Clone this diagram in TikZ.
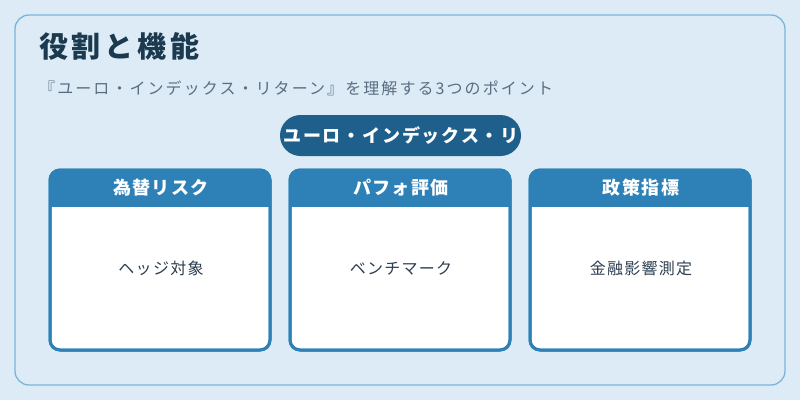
\documentclass[tikz,border=0pt]{standalone}
\usepackage{fontspec}
\newfontfamily\jp{Noto Sans CJK JP}
\definecolor{bgc}{HTML}{DCEBF6}
\definecolor{outerc}{HTML}{7AB4D8}
\definecolor{titlec}{HTML}{1B3A4F}
\definecolor{subc}{HTML}{5A6E80}
\definecolor{pillc}{HTML}{1F5F8B}
\definecolor{hdrc}{HTML}{2E81B7}
\definecolor{bodyc}{HTML}{2C3E50}
\tikzset{
  cardbox/.style={draw=hdrc, line width=3pt, fill=white, rounded corners=10pt,
    minimum width=220pt, minimum height=180pt, inner sep=0pt},
  hdrtext/.style={text=white, font=\jp\bfseries\fontsize{18}{20}\selectfont\addfontfeatures{LetterSpace=8}, inner sep=0pt},
  bodytext/.style={text=bodyc, font=\jp\fontsize{16}{18}\selectfont\addfontfeatures{LetterSpace=8}, inner sep=0pt},
}
\begin{document}
\begin{tikzpicture}[x=1pt,y=-1pt]
\useasboundingbox (0,0) rectangle (800,400);
\fill[bgc] (0,0) rectangle (800,400);
\node[draw=outerc, line width=1.3pt, fill=bgc, rounded corners=14pt, minimum width=770pt, minimum height=370pt, inner sep=0pt] (outer) at (400,200) {};
\node[anchor=west, inner sep=0pt, text=titlec, font=\jp\bfseries\fontsize{29}{32}\selectfont\addfontfeatures{LetterSpace=13}] (title) at (39,46) {役割と機能};
\node[anchor=west, inner sep=0pt, text=subc, font=\jp\fontsize{16}{18}\selectfont\addfontfeatures{LetterSpace=13}] (sub) at (39,88) {『ユーロ・インデックス・リターン』を理解する3つのポイント};
\node[fill=pillc, rounded corners=20.5pt, minimum width=241pt, minimum height=41pt, inner sep=0pt] (pill) at (400.5,135.5) {};
\node[text=white, inner sep=0pt, font=\jp\bfseries\fontsize{18}{20}\selectfont\addfontfeatures{LetterSpace=10}] (pilltext) at (401,135.5) {ユーロ・インデックス・リ};
\foreach \cx/\name/\hd/\bd in {160/c1/為替リスク/ヘッジ対象, 400/c2/パフォ評価/ベンチマーク, 640/c3/政策指標/金融影響測定}{
  \node[cardbox] (\name) at (\cx,260) {};
  \begin{scope}
    \clip[rounded corners=10pt] (\cx-110,170) rectangle (\cx+110,350);
    \fill[hdrc] (\cx-110,170) rectangle (\cx+110,206.5);
  \end{scope}
  \node[draw=hdrc, line width=3pt, rounded corners=10pt, minimum width=220pt, minimum height=180pt, inner sep=0pt] at (\name.center) {};
  \node[hdrtext] (\name h) at (\cx+1,188) {\hd};
  \node[bodytext] (\name b) at (\cx+1,268) {\bd};
}
\end{tikzpicture}
\end{document}
